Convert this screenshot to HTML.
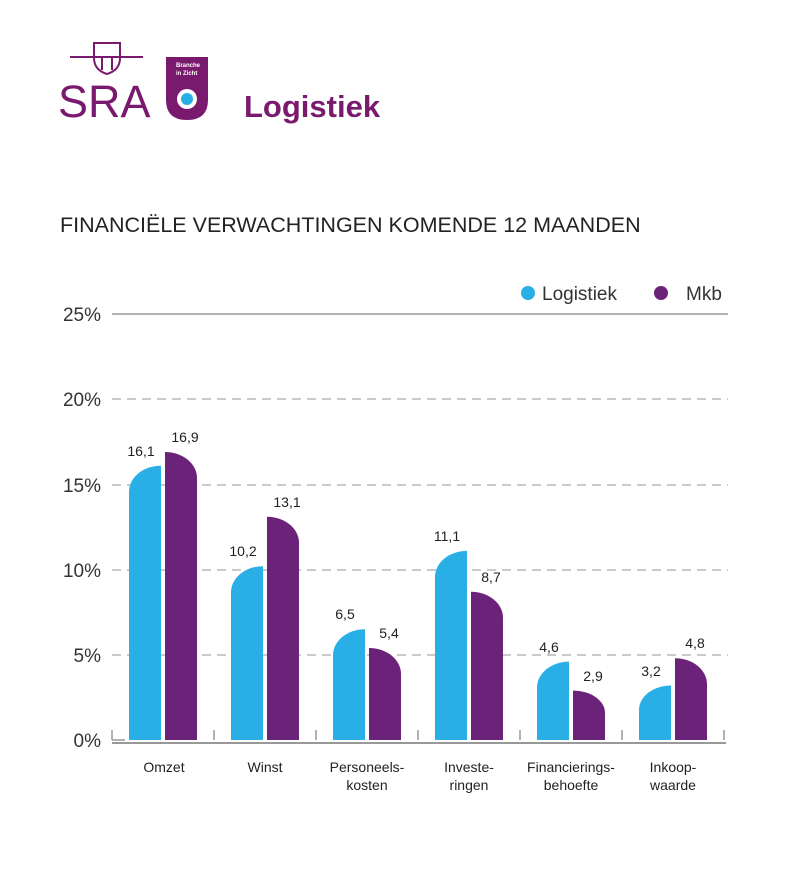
<!DOCTYPE html>
<html><head><meta charset="utf-8"><style>
html,body{margin:0;padding:0;background:#fff;}
svg{display:block;font-family:"Liberation Sans",Arial,sans-serif;}
</style></head><body>
<svg width="800" height="880" viewBox="0 0 800 880">
<g stroke="#7a1a6e" stroke-width="2" fill="none">
<line x1="70" y1="57" x2="143" y2="57"/>
<path d="M94 43 L120 43 L120 58 Q120 70 107 74 Q94 70 94 58 Z"/>
<line x1="102" y1="57" x2="102" y2="70"/><line x1="112" y1="57" x2="112" y2="70"/>
</g>
<text x="58" y="117" font-size="45" fill="#7a1a6e">SRA</text>
<path d="M166 57 H208 V100 Q208 120 187 120 Q166 120 166 100 Z" fill="#7a1a6e"/>
<text x="176" y="67" font-size="6" fill="#fff" font-weight="bold">Branche</text>
<text x="176" y="75" font-size="6" fill="#fff" font-weight="bold">in Zicht</text>
<circle cx="187" cy="99" r="10" fill="#fff"/><circle cx="187" cy="99" r="6" fill="#29aee6"/>
<text x="244" y="117" font-size="31" font-weight="bold" fill="#7a1a6e">Logistiek</text>
<text x="60" y="232" font-size="21.5" fill="#222">FINANCIËLE VERWACHTINGEN KOMENDE 12 MAANDEN</text>
<circle cx="528" cy="293" r="7" fill="#29aee6"/>
<text x="542" y="300" font-size="19" fill="#333">Logistiek</text>
<circle cx="661" cy="293" r="7" fill="#6b237a"/>
<text x="686" y="300" font-size="19" fill="#333">Mkb</text>
<line x1="112" y1="314" x2="728" y2="314" stroke="#999" stroke-width="1.5"/>
<g stroke="#aaa" stroke-width="1.3" stroke-dasharray="9,6">
<line x1="112" y1="399" x2="728" y2="399"/><line x1="112" y1="485" x2="728" y2="485"/>
<line x1="112" y1="570" x2="728" y2="570"/><line x1="112" y1="655" x2="728" y2="655"/>
</g>
<g font-size="19" fill="#333" text-anchor="end">
<text x="101" y="321">25%</text><text x="101" y="406">20%</text><text x="101" y="492">15%</text>
<text x="101" y="577">10%</text><text x="101" y="662">5%</text><text x="101" y="747">0%</text>
</g>
<line x1="112" y1="743" x2="726" y2="743" stroke="#999" stroke-width="2"/>
<g stroke="#999" stroke-width="1.5">
<line x1="112" y1="730" x2="112" y2="740"/><line x1="112" y1="740" x2="125" y2="740"/>
<line x1="214" y1="730" x2="214" y2="740"/><line x1="316" y1="730" x2="316" y2="740"/>
<line x1="418" y1="730" x2="418" y2="740"/><line x1="520" y1="730" x2="520" y2="740"/>
<line x1="622" y1="730" x2="622" y2="740"/><line x1="724" y1="730" x2="724" y2="740"/>
</g>
<g fill="#29aee6">
<path d="M129 740 V491.7 A32 26 0 0 1 161 465.7 V740 Z"/>
<path d="M231 740 V592.2 A32 26 0 0 1 263 566.2 V740 Z"/>
<path d="M333 740 V655.2 A32 26 0 0 1 365 629.2 V740 Z"/>
<path d="M435 740 V576.9 A32 26 0 0 1 467 550.9 V740 Z"/>
<path d="M537 740 V687.6 A32 26 0 0 1 569 661.6 V740 Z"/>
<path d="M639 740 V710 A32 24.5 0 0 1 671 685.5 V740 Z"/>
</g>
<g fill="#6b237a">
<path d="M165 740 V452 A32 26 0 0 1 197 478 V740 Z"/>
<path d="M267 740 V516.8 A32 26 0 0 1 299 542.8 V740 Z"/>
<path d="M369 740 V648 A32 26 0 0 1 401 674 V740 Z"/>
<path d="M471 740 V591.8 A32 26 0 0 1 503 617.8 V740 Z"/>
<path d="M573 740 V690.6 A32 22.2 0 0 1 605 712.8 V740 Z"/>
<path d="M675 740 V658.2 A32 26 0 0 1 707 684.2 V740 Z"/>
</g>
<g font-size="14" fill="#222" text-anchor="middle">
<text x="141" y="456">16,1</text><text x="185" y="442">16,9</text>
<text x="243" y="556">10,2</text><text x="287" y="507">13,1</text>
<text x="345" y="619">6,5</text><text x="389" y="638">5,4</text>
<text x="447" y="541">11,1</text><text x="491" y="582">8,7</text>
<text x="549" y="652">4,6</text><text x="593" y="681">2,9</text>
<text x="651" y="676">3,2</text><text x="695" y="648">4,8</text>
</g>
<g font-size="14" fill="#222" text-anchor="middle">
<text x="164" y="772">Omzet</text>
<text x="265" y="772">Winst</text>
<text x="367" y="772">Personeels-</text><text x="367" y="790">kosten</text>
<text x="469" y="772">Investe-</text><text x="469" y="790">ringen</text>
<text x="571" y="772">Financierings-</text><text x="571" y="790">behoefte</text>
<text x="673" y="772">Inkoop-</text><text x="673" y="790">waarde</text>
</g>
</svg>
</body></html>
